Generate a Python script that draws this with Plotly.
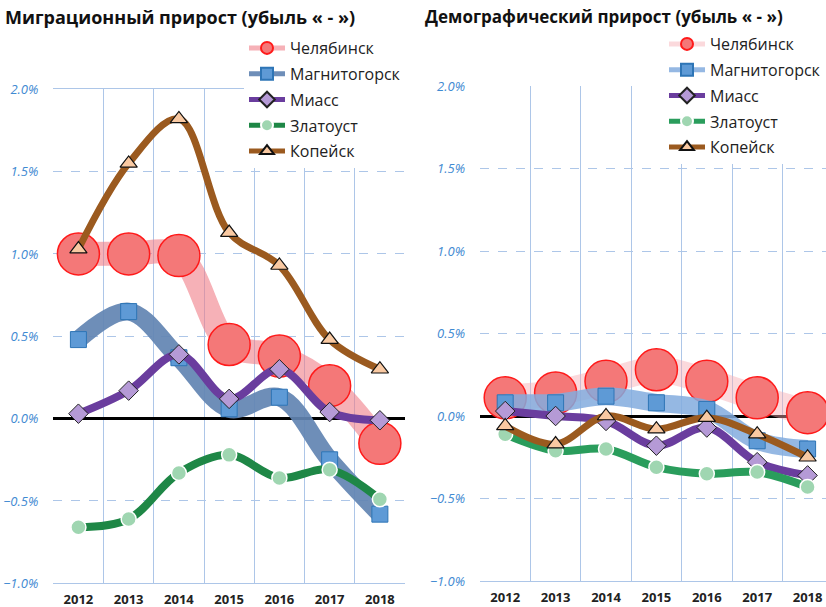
"""
Migration and demographic growth, five Chelyabinsk-region cities, 2012-2018
"""
import plotly.graph_objects as go
from plotly.subplots import make_subplots

years = ["2012", "2013", "2014", "2015", "2016", "2017", "2018"]
cities = ["Челябинск", "Магнитогорск", "Миасс", "Златоуст", "Копейск"]

# Migration growth, % (left panel)
mig_chel = [1.00, 1.00, 0.99, 0.45, 0.38, 0.20, -0.15]
mig_magn = [0.48, 0.65, 0.37, 0.06, 0.13, -0.25, -0.58]
mig_miass = [0.03, 0.17, 0.39, 0.12, 0.30, 0.04, -0.01]
mig_zlat = [-0.66, -0.61, -0.33, -0.22, -0.36, -0.31, -0.49]
mig_kop = [1.03, 1.55, 1.82, 1.13, 0.93, 0.48, 0.30]

# Demographic growth, % (right panel)
dem_chel = [0.11, 0.14, 0.21, 0.28, 0.21, 0.11, 0.02]
dem_magn = [0.08, 0.08, 0.12, 0.08, 0.04, -0.15, -0.20]
dem_miass = [0.03, 0.00, -0.03, -0.18, -0.07, -0.28, -0.36]
dem_zlat = [-0.11, -0.21, -0.20, -0.31, -0.35, -0.34, -0.43]
dem_kop = [-0.06, -0.17, 0.00, -0.08, -0.01, -0.11, -0.25]

titles = ["Миграционный прирост (убыль « - »)", "Демографический прирост (убыль « - »)"]

FONT = "Open Sans"
GRID = "#adc6e8"
TICK_BLUE = "#3f8ad2"

W, H = 826, 607


def px(x):
    return x / W


def py(y):
    return 1 - y / H


# line + marker style per city, per panel
styles_left = [
    dict(line=dict(color="rgba(240,125,135,0.6)", width=24),
         marker=dict(symbol="circle", size=42, color="#f47878", line=dict(color="#ff1a1a", width=1.5))),
    dict(line=dict(color="rgba(98,132,178,0.92)", width=18),
         marker=dict(symbol="square", size=16, color="#5e9ad6", line=dict(color="#2e75b6", width=1))),
    dict(line=dict(color="#6a3d9e", width=8),
         marker=dict(symbol="diamond", size=15, color="#b59ad6", line=dict(color="#222222", width=1))),
    dict(line=dict(color="#1e8746", width=8),
         marker=dict(symbol="circle", size=15, color="#9fd6b1", line=dict(color="#ffffff", width=1.5))),
    dict(line=dict(color="#9b5a1f", width=7),
         marker=dict(symbol="triangle-up", size=15, color="#f9c9a2", line=dict(color="#111111", width=1.2))),
]
styles_right = [
    dict(line=dict(color="rgba(246,170,178,0.45)", width=26),
         marker=dict(symbol="circle", size=42, color="#f47878", line=dict(color="#ff1a1a", width=1.5))),
    dict(line=dict(color="rgba(130,172,222,0.85)", width=18),
         marker=dict(symbol="square", size=16, color="#5e9ad6", line=dict(color="#2e75b6", width=1))),
    dict(line=dict(color="#6a3d9e", width=8),
         marker=dict(symbol="diamond", size=15, color="#b59ad6", line=dict(color="#222222", width=1))),
    dict(line=dict(color="#2a9d5c", width=8),
         marker=dict(symbol="circle", size=15, color="#9fd6b1", line=dict(color="#ffffff", width=1.5))),
    dict(line=dict(color="#9b5a1f", width=7),
         marker=dict(symbol="triangle-up", size=15, color="#f9c9a2", line=dict(color="#111111", width=1.2))),
]

fig = make_subplots(rows=1, cols=2)

left = [mig_chel, mig_magn, mig_miass, mig_zlat, mig_kop]
right = [dem_chel, dem_magn, dem_miass, dem_zlat, dem_kop]

for i, (name, vals, st) in enumerate(zip(cities, left, styles_left)):
    fig.add_trace(go.Scatter(
        x=years, y=vals, name=name, mode="lines+markers",
        line=dict(shape="spline", smoothing=1.0, **st["line"]),
        marker=st["marker"], legend="legend", legendgroup=f"L{i}",
    ), row=1, col=1)

for i, (name, vals, st) in enumerate(zip(cities, right, styles_right)):
    fig.add_trace(go.Scatter(
        x=years, y=vals, name=name, mode="lines+markers",
        line=dict(shape="spline", smoothing=1.0, **st["line"]),
        marker=st["marker"], legend="legend2", legendgroup=f"R{i}",
    ), row=1, col=2)

xax = dict(
    type="category", tickson="boundaries", showgrid=True, gridcolor=GRID, gridwidth=1,
    showline=True, linecolor=GRID, mirror=True, ticks="", automargin=False,
    tickfont=dict(family=FONT, size=13, color="#222222", weight="bold"),
    ticklabelstandoff=4,
)
yax = dict(
    range=[-1.0, 2.0], dtick=0.5, tickformat=".1f", ticksuffix="%",
    showgrid=True, gridcolor=GRID, griddash="dash", gridwidth=1,
    zeroline=True, zerolinecolor="black", zerolinewidth=3, automargin=False,
    tickfont=dict(family=FONT, size=13, color=TICK_BLUE, style="italic"),
    ticklabelstandoff=14,
)

legend_style = dict(
    xanchor="left", yanchor="top", bgcolor="white", itemsizing="constant", itemwidth=36,
    font=dict(family=FONT, size=16, color="#222222"), tracegroupgap=2,
)

fig.update_layout(
    xaxis=dict(xax, domain=[px(53.3), px(405)], range=[-0.5, 6.5]),
    xaxis2=dict(xax, domain=[px(480), 1.0], range=[-0.5, 6.365], mirror=False),
    yaxis=dict(yax, domain=[py(583.3), py(89.3)]),
    yaxis2=dict(yax, domain=[py(581), py(86)]),
    width=W, height=H,
    margin=dict(l=0, r=0, t=0, b=0),
    paper_bgcolor="white", plot_bgcolor="white",
    font=dict(family=FONT, color="#222222"),
    legend=dict(legend_style, x=px(244), y=py(31)),
    legend2=dict(legend_style, x=px(664), y=py(27)),
    annotations=[
        dict(text=titles[0], x=px(3), y=py(17), xref="paper", yref="paper",
             xanchor="left", yanchor="middle", showarrow=False,
             font=dict(family=FONT, size=18, color="#111111", weight="bold")),
        dict(text=titles[1], x=px(423), y=py(17), xref="paper", yref="paper",
             xanchor="left", yanchor="middle", showarrow=False,
             font=dict(family=FONT, size=17, color="#111111", weight="bold")),
    ],
)

# drop the default 8px page margin so the 826x607 figure fills the window exactly
fig.write_html("out.html", config={"displayModeBar": False},
               post_script="document.body.style.margin = '0';")
